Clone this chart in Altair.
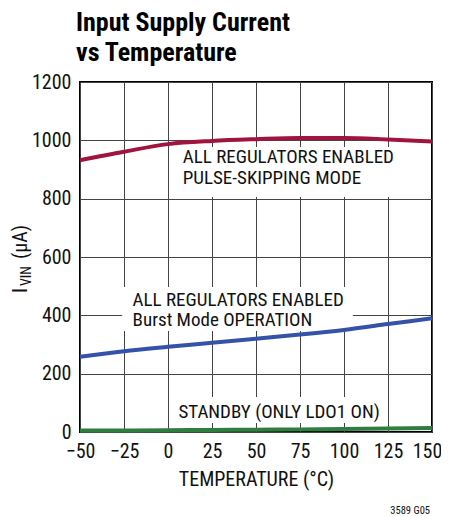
import altair as alt
import pandas as pd

# ---- data ----
temps = [-50, -25, 0, 25, 50, 75, 100, 125, 150]
pulse_skip = [932, 961, 987, 998, 1004, 1008, 1008, 1003, 996]
burst = [258, 277, 292, 306, 320, 334, 350, 370, 390]
standby = [5, 5, 6, 7, 8, 9, 10, 12, 14]
series_names = ["Pulse-skipping", "Burst Mode", "Standby"]
series_colors = ["#a0143f", "#3452a8", "#2f7d3f"]

x_ticks = [-50, -25, 0, 25, 50, 75, 100, 125, 150]
y_ticks = [0, 200, 400, 600, 800, 1000, 1200]

label_lines = ["ALL REGULATORS ENABLED", "PULSE-SKIPPING MODE",
               "ALL REGULATORS ENABLED", "Burst Mode OPERATION",
               "STANDBY (ONLY LDO1 ON)"]
label_x = [8.4, 8.4, -20.1, -20.1, 5.9]
label_y = [922, 850, 432, 362, 48]

box_x = [5.5, -26, 4]
box_x2 = [131.8, 105, 122]
box_y = [806, 346, 31]
box_y2 = [977, 497, 120]

FONT = "Roboto Condensed, Liberation Sans Narrow, Roboto, sans-serif"

rows = []
for name, vals in zip(series_names, [pulse_skip, burst, standby]):
    for t, v in zip(temps, vals):
        rows.append({"temp": t, "current": v, "series": name})
df = pd.DataFrame(rows)

labels_df = pd.DataFrame({"text": label_lines, "x": label_x, "y": label_y})
boxes_df = pd.DataFrame({"x": box_x, "x2": box_x2, "y": box_y, "y2": box_y2})

xscale = alt.Scale(domain=[-50, 150], nice=False, zero=False, padding=0)
yscale = alt.Scale(domain=[0, 1200], nice=False, padding=0)

xaxis = alt.Axis(values=x_ticks, title="TEMPERATURE (°C)", grid=True,
                 gridColor="#444444", gridWidth=1, domain=False, ticks=False,
                 labelFont=FONT, labelFontSize=20, labelColor="#111111",
                 labelPadding=9, labelOverlap=False, labelFlush=False,
                 labelOffset={"condition": {"test": "datum.value == 150", "value": -5}, "value": 0},
                 titleFont=FONT, titleFontSize=20,
                 titleFontWeight="normal", titleColor="#111111", titlePadding=8,
                 labelExpr="datum.value < 0 ? '\u2212' + abs(datum.value) : datum.value")
yaxis = alt.Axis(values=y_ticks, title=None, grid=True, format="d",
                 gridColor="#444444", gridWidth=1, domain=False, ticks=False,
                 labelFont=FONT, labelFontSize=20, labelColor="#111111",
                 labelPadding=9, labelOverlap=False, labelFlush=False)

base_x = alt.X("temp:Q", scale=xscale, axis=xaxis)
base_y = alt.Y("current:Q", scale=yscale, axis=yaxis)

lines = alt.Chart(df).mark_line(strokeWidth=4, interpolate="monotone").encode(
    x=base_x, y=base_y,
    color=alt.Color("series:N", scale=alt.Scale(domain=series_names, range=series_colors), legend=None),
)

boxes = alt.Chart(boxes_df).mark_rect(fill="white").encode(
    x=alt.X("x:Q", scale=xscale, axis=xaxis), x2="x2:Q",
    y=alt.Y("y:Q", scale=yscale, axis=yaxis), y2="y2:Q",
)

texts = alt.Chart(labels_df).mark_text(align="left", baseline="alphabetic",
                                       font=FONT, fontSize=19, color="#111111").encode(
    x=alt.X("x:Q", scale=xscale, axis=xaxis),
    y=alt.Y("y:Q", scale=yscale, axis=yaxis),
    text="text:N",
)

dummy = pd.DataFrame({"a": [0]})
yt_I = alt.Chart(dummy).mark_text(text="I", angle=270, align="left", baseline="alphabetic",
                                  font=FONT, fontSize=20, color="#111111").encode(
    x=alt.value(-53), y=alt.value(211))
yt_VIN = alt.Chart(dummy).mark_text(text="VIN", angle=270, align="left", baseline="alphabetic",
                                    font=FONT, fontSize=14, color="#111111").encode(
    x=alt.value(-49), y=alt.value(204))
yt_unit = alt.Chart(dummy).mark_text(text="(μA)", angle=270, align="left", baseline="alphabetic",
                                     font=FONT, fontSize=20, color="#111111").encode(
    x=alt.value(-53), y=alt.value(177))
code = alt.Chart(dummy).mark_text(text="3589 G05", align="right", baseline="alphabetic",
                                  font=FONT, fontSize=10.5, color="#111111").encode(
    x=alt.value(350), y=alt.value(432))

chart = alt.layer(boxes, lines, texts, yt_I, yt_VIN, yt_unit, code).properties(
    width=352, height=350,
    title=alt.Title(["Input Supply Current", "vs Temperature"], anchor="start", frame="group",
                    font=FONT, fontSize=26, fontWeight="bold", lineHeight=30,
                    color="#000000", dx=-4, offset=6),
    autosize=alt.AutoSizeParams(type="none"),
    padding={"left": 72, "top": 74, "right": 9, "bottom": 85},
).configure_view(stroke="#000000", strokeWidth=2)

chart.save("out.html", embed_options={"renderer": "svg", "actions": False})
